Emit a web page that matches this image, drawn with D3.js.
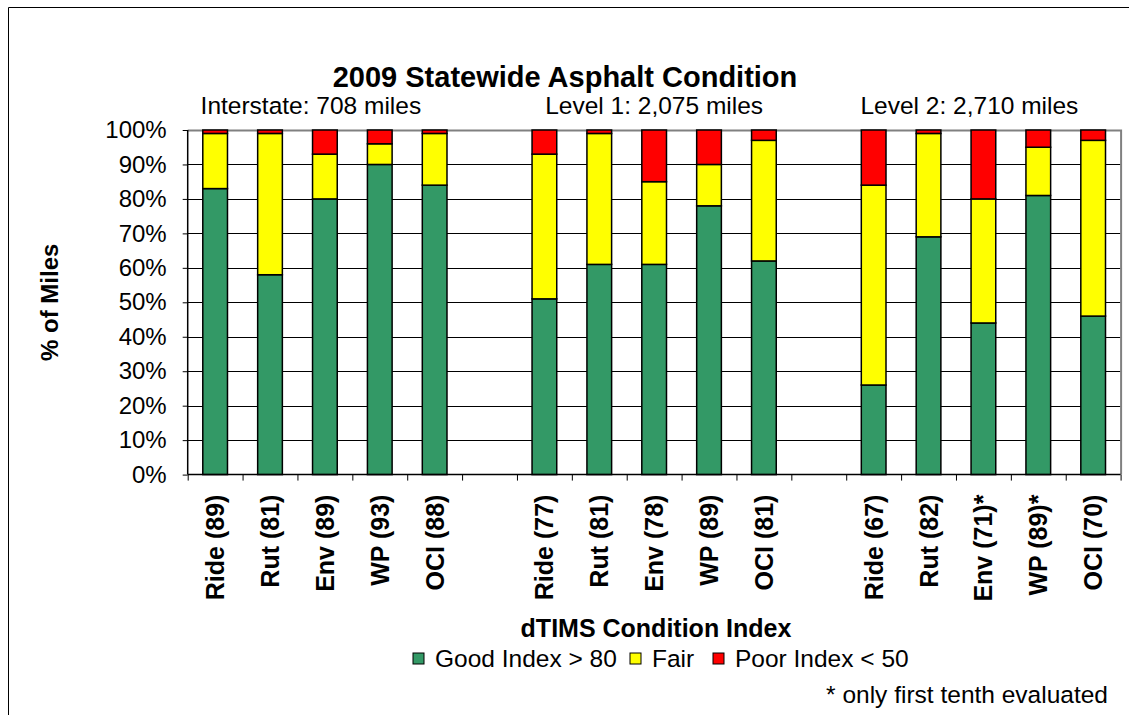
<!DOCTYPE html>
<html>
<head>
<meta charset="utf-8">
<script src="https://cdn.jsdelivr.net/npm/d3@7"></script>
<style>
  body { margin: 0; background: #fff; }
  text { font-family: "Liberation Sans", Arial, sans-serif; fill: #000; }
</style>
</head>
<body>
<div id="chart"></div>
<script>
// data
var groups = ["Interstate: 708 miles", "Level 1: 2,075 miles", "Level 2: 2,710 miles"];
var interstateLabels = ["Ride (89)", "Rut (81)", "Env (89)", "WP (93)", "OCI (88)"];
var level1Labels = ["Ride (77)", "Rut (81)", "Env (78)", "WP (89)", "OCI (81)"];
var level2Labels = ["Ride (67)", "Rut (82)", "Env (71)*", "WP (89)*", "OCI (70)"];
var good = [83, 58, 80, 90, 84, 51, 61, 61, 78, 62, 26, 69, 44, 81, 46];
var fair = [16, 41, 13, 6, 15, 42, 38, 24, 12, 35, 58, 30, 36, 14, 51];
var poor = [1, 1, 7, 4, 1, 7, 1, 15, 10, 3, 16, 1, 20, 5, 3];
var yTicks = [0, 10, 20, 30, 40, 50, 60, 70, 80, 90, 100];
var seriesNames = ["Good Index > 80", "Fair", "Poor Index < 50"];
var colors = ["#339966", "#ffff00", "#ff0000"];

var W = 1129, H = 715;
var pLeft = 187.7, pRight = 1120.6, pTop = 130, pBottom = 474.6;

var svg = d3.select("#chart").append("svg").attr("width", W).attr("height", H);

// outer frame
svg.append("path").attr("d", "M8.5," + H + "V7.5H" + W)
   .attr("fill", "none").attr("stroke", "#000");

// build slots: 5 bars, blank, 5 bars, blank, 5 bars
var labelSets = [interstateLabels, level1Labels, level2Labels];
var slots = [];
var rows = [];
var k = 0;
labelSets.forEach(function(set, g) {
    set.forEach(function(lab, j) {
        var key = g + "_" + j;
        slots.push(key);
        rows.push({key: key, label: lab, good: good[k], fair: fair[k], poor: poor[k]});
        k++;
    });
    if (g < labelSets.length - 1) slots.push("gap" + g);
});

var x = d3.scaleBand().domain(slots).range([pLeft, pRight]).paddingInner(0.55).paddingOuter(0.275);
var xi = d3.scaleLinear().domain([0, slots.length]).range([pLeft, pRight]);
var y = d3.scaleLinear().domain([0, 100]).range([pBottom, pTop]);

// gridlines
svg.append("g").selectAll("line").data(yTicks.filter(function(t) { return t > 0 && t < 100; }))
   .join("line")
   .attr("x1", pLeft).attr("x2", pRight)
   .attr("y1", function(d) { return Math.round(y(d)) + 0.5; })
   .attr("y2", function(d) { return Math.round(y(d)) + 0.5; })
   .attr("stroke", "#000").attr("stroke-width", 1);

// plot area border (gray)
svg.append("path").attr("d", "M" + pLeft + "," + (pTop + 0.5) + "H" + (pRight + 0.5) + "V" + pBottom)
   .attr("fill", "none").attr("stroke", "#808080").attr("stroke-width", 2);

// stacked bars
var stack = d3.stack().keys(["good", "fair", "poor"]);
var stacked = stack(rows);
svg.append("g").selectAll("g").data(stacked).join("g")
   .attr("fill", function(d, i) { return colors[i]; })
   .selectAll("rect").data(function(d) { return d; }).join("rect")
   .attr("x", function(d) { return x(d.data.key); })
   .attr("width", x.bandwidth())
   .attr("y", function(d) { return y(d[1]); })
   .attr("height", function(d) { return y(d[0]) - y(d[1]); })
   .attr("stroke", "#000").attr("stroke-width", 1.5);

// y axis
var yAxis = svg.append("g").attr("transform", "translate(" + pLeft + ",0)")
   .call(d3.axisLeft(y).tickValues(yTicks).tickSize(5).tickPadding(16)
        .tickFormat(function(d) { return d + "%"; }));
yAxis.select(".domain").attr("stroke", "#000").attr("stroke-width", 1.5).attr("d", "M0," + pTop + "V" + pBottom);
yAxis.selectAll(".tick line").attr("stroke", "#000");
yAxis.selectAll("text").style("font-size", "24px").attr("fill", "#000");

// x axis with ticks at slot boundaries
var xAxis = svg.append("g").attr("transform", "translate(0," + pBottom + ")")
   .call(d3.axisBottom(xi).tickValues(d3.range(slots.length + 1)).tickSize(6).tickFormat(""));
xAxis.select(".domain").attr("stroke", "#000").attr("stroke-width", 1.5).attr("d", "M" + pLeft + ",0H" + pRight);
xAxis.selectAll(".tick line").attr("stroke", "#000");

// rotated category labels
svg.append("g").selectAll("text").data(rows).join("text")
   .attr("transform", function(d) { return "translate(" + (x(d.key) + x.bandwidth() / 2) + "," + (pBottom + 20) + ") rotate(-90)"; })
   .attr("text-anchor", "end").attr("dy", "0.36em")
   .style("font-size", "25px").style("font-weight", "bold")
   .text(function(d) { return d.label; });

// group labels above bars
var labelShift = [-14, 0, -14];
svg.append("g").selectAll("text").data(groups).join("text")
   .attr("x", function(d, g) {
       var a = x(g + "_0"), b = x(g + "_4") + x.bandwidth();
       return (a + b) / 2 + labelShift[g];
   })
   .attr("y", 114)
   .attr("text-anchor", "middle").style("font-size", "24.5px")
   .text(function(d) { return d; });

// title
svg.append("text").attr("x", 565).attr("y", 87).attr("text-anchor", "middle")
   .style("font-size", "29px").style("font-weight", "bold")
   .text("2009 Statewide Asphalt Condition");

// axis titles
svg.append("text").attr("transform", "translate(58," + ((pTop + pBottom) / 2) + ") rotate(-90)")
   .attr("text-anchor", "middle").style("font-size", "24px").style("font-weight", "bold")
   .text("% of Miles");
svg.append("text").attr("x", 656).attr("y", 637).attr("text-anchor", "middle")
   .style("font-size", "25px").style("font-weight", "bold")
   .text("dTIMS Condition Index");

// legend
var legendX = [413, 630, 713];
var legend = svg.append("g").selectAll("g").data(seriesNames).join("g")
   .attr("transform", function(d, i) { return "translate(" + legendX[i] + ",653)"; });
legend.append("rect").attr("width", 11).attr("height", 11)
   .attr("fill", function(d, i) { return colors[i]; })
   .attr("stroke", "#000").attr("stroke-width", 1);
legend.append("text").attr("x", 22).attr("y", 14).style("font-size", "24.5px")
   .text(function(d) { return d; });

// footnote
svg.append("text").attr("x", 1108).attr("y", 703).attr("text-anchor", "end")
   .style("font-size", "24.5px").text("* only first tenth evaluated");
</script>
</body>
</html>
